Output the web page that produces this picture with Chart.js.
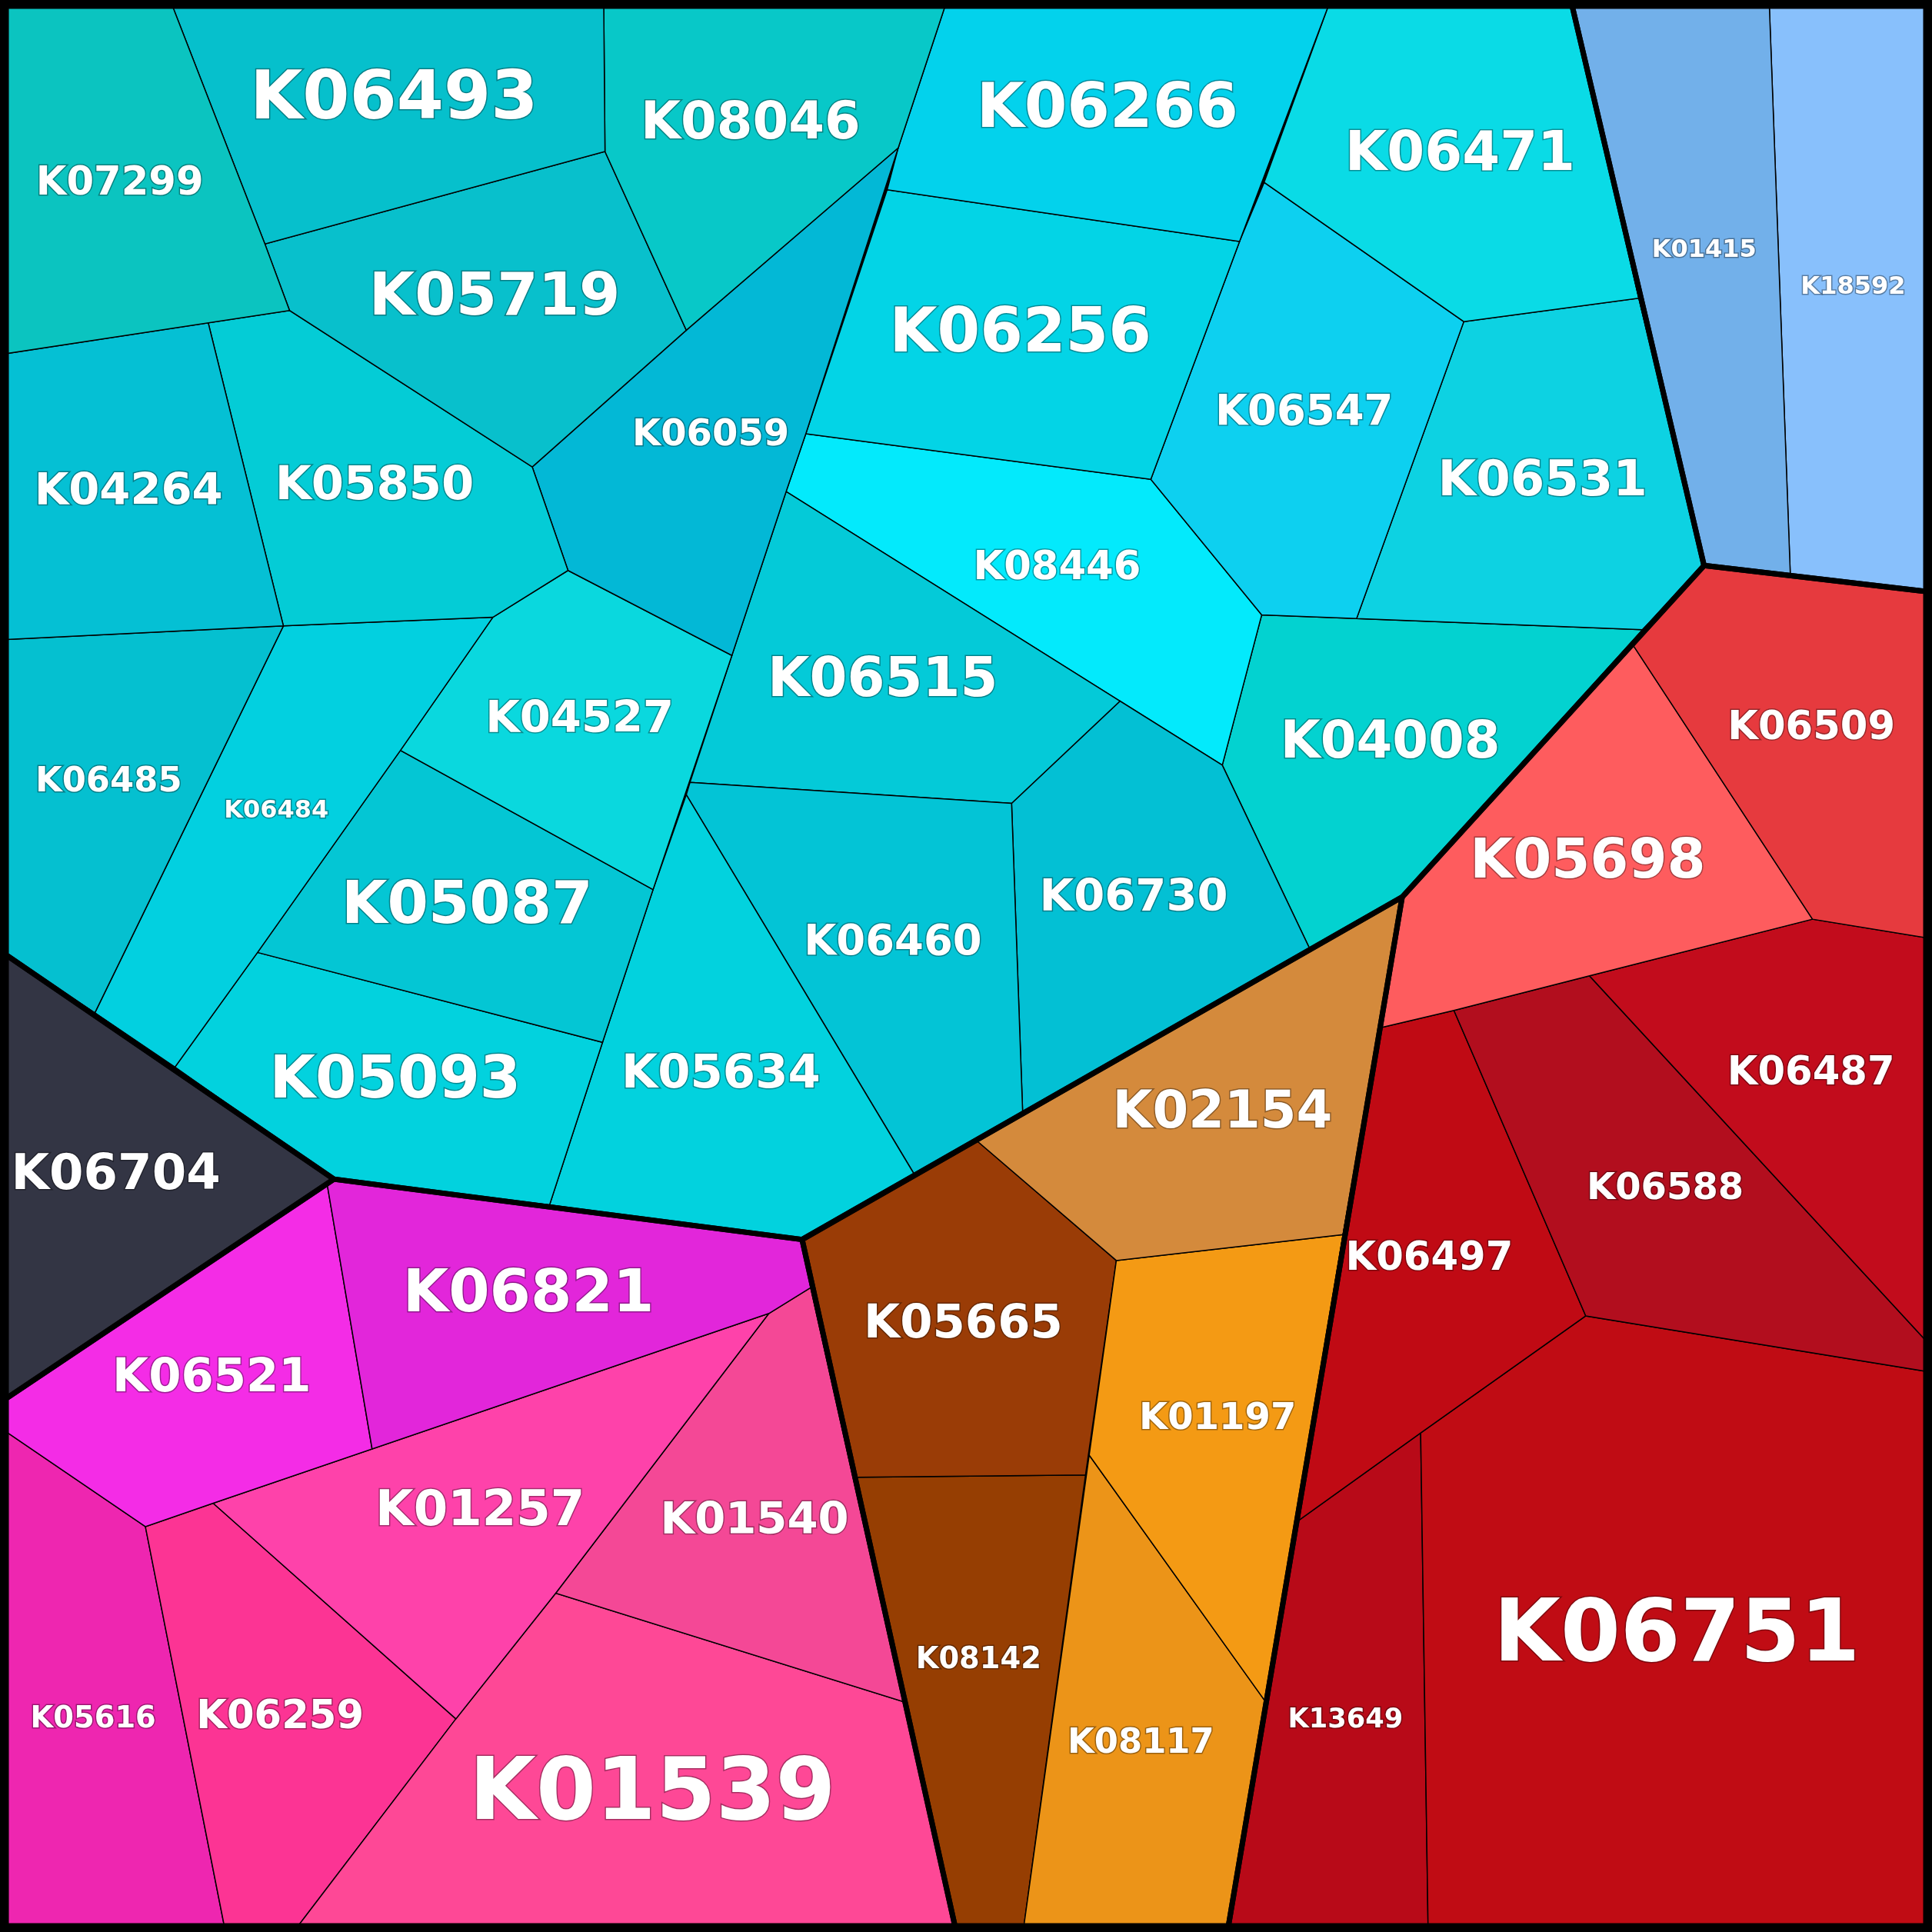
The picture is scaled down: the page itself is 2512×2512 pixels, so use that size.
<!DOCTYPE html>
<html>
<head>
<meta charset="utf-8">
<script src="https://cdn.jsdelivr.net/npm/chart.js@4"></script>
<style>
  html, body { margin: 0; padding: 0; background: #000; }
  canvas { display: block; }
</style>
</head>
<body>
<canvas id="voronoi" width="2512" height="2512"></canvas>
<script>
// cell names
const cells = ['K07299','K06493','K08046','K05719','K04264','K05850','K06059','K06485','K06484','K04527',
  'K05087','K05093','K05634','K06460','K06515','K06730','K06266','K06471','K06256','K06547',
  'K06531','K08446','K04008','K01415','K18592','K06509','K05698','K06487','K06588','K06497',
  'K06751','K13649','K02154','K01197','K08117','K05665','K08142','K06704','K06821','K06521',
  'K01257','K01540','K01539','K06259','K05616'];

// relative weight of each cell (drives label size)
const weights = [32,55,42,48,36,38,30,28,20,36, 48,48,38,34,44,36,50,44,50,34,
  40,32,42,20,20,32,45,32,30,32, 70,22,42,30,28,38,24,40,48,38, 40,36,70,32,24];

// cell outlines, in map units (0..1568, y down)
const polygons = [
  [[5,5],[140,5],[215,198],[235,252],[5,287]],
  [[140,5],[490,5],[491,123],[215,198]],
  [[490,5],[767,5],[729,120],[557,268],[491,123]],
  [[215,198],[491,123],[557,268],[432,379],[235,252]],
  [[5,287],[169,262],[230,508],[5,519]],
  [[169,262],[235,252],[432,379],[461,463],[400,501],[230,508]],
  [[432,379],[557,268],[729,120],[654,352],[638,399],[594,532],[461,463]],
  [[5,519],[230,508],[77,822],[5,775]],
  [[230,508],[400,501],[325,609],[209,773],[142,866],[77,822]],
  [[400,501],[461,463],[594,532],[530,722],[325,609]],
  [[325,609],[530,722],[489,846],[209,773]],
  [[209,773],[489,846],[446,978],[271,957],[142,866]],
  [[557,645],[742,953],[651,1006],[446,978],[489,846],[530,722]],
  [[560,635],[821,652],[830,903],[742,953],[557,645]],
  [[638,399],[909,569],[821,652],[560,635],[594,532]],
  [[821,652],[909,569],[992,621],[1063,770],[830,903]],
  [[767,5],[1078,5],[1006,196],[720,154],[729,120]],
  [[1078,5],[1276,5],[1330,242],[1188,261],[1026,148]],
  [[720,154],[1006,196],[934,389],[654,352]],
  [[1026,148],[1188,261],[1101,502],[1024,499],[934,389],[1006,196]],
  [[1188,261],[1330,242],[1383,459],[1333,511],[1101,502]],
  [[654,352],[934,389],[1024,499],[992,621],[909,569],[638,399]],
  [[1024,499],[1101,502],[1333,511],[1138,728],[1063,770],[992,621]],
  [[1276,5],[1436,5],[1453,466],[1383,459]],
  [[1436,5],[1563,5],[1563,480],[1453,466]],
  [[1383,459],[1563,480],[1563,761],[1471,746],[1325,523]],
  [[1325,523],[1471,746],[1290,792],[1180,820],[1121,834],[1138,728]],
  [[1471,746],[1563,761],[1563,1088],[1290,792]],
  [[1180,820],[1290,792],[1563,1088],[1563,1113],[1287,1068]],
  [[1121,834],[1180,820],[1287,1068],[1153,1163],[1054,1234],[1090,1002]],
  [[1287,1068],[1563,1113],[1563,1563],[1159,1563],[1153,1163]],
  [[1054,1234],[1153,1163],[1159,1563],[997,1563],[1027,1381]],
  [[793,926],[1138,728],[1090,1002],[906,1023]],
  [[906,1023],[1090,1002],[1027,1381],[884,1181]],
  [[884,1181],[1027,1381],[997,1563],[831,1563]],
  [[651,1006],[793,926],[906,1023],[881,1197],[695,1199]],
  [[695,1199],[881,1197],[831,1563],[775,1563]],
  [[5,775],[77,822],[142,866],[271,957],[5,1135]],
  [[271,957],[651,1006],[658,1045],[624,1066],[302,1176],[265,958]],
  [[5,1135],[265,958],[302,1176],[173,1220],[118,1239],[5,1162]],
  [[173,1220],[624,1066],[451,1293],[370,1395]],
  [[624,1066],[658,1045],[733,1381],[451,1293]],
  [[451,1293],[733,1381],[775,1563],[242,1563],[370,1395]],
  [[118,1239],[173,1220],[370,1395],[242,1563],[182,1563]],
  [[5,1162],[118,1239],[182,1563],[5,1563]]
];

// group outlines (drawn thick)
const groups = [
  [[5,5],[1276,5],[1383,459],[1138,728],[651,1006],[271,957],[5,775]],
  [[1276,5],[1563,5],[1563,480],[1383,459]],
  [[1383,459],[1563,480],[1563,1563],[997,1563],[1138,728]],
  [[1138,728],[997,1563],[775,1563],[651,1006]],
  [[651,1006],[775,1563],[5,1563],[5,1135],[271,957]],
  [[5,775],[271,957],[5,1135]]
];

const colors = ['#0bc4c0','#06c0cc','#08c8c8','#08c0cc','#05c0d4','#04ccd6','#03b8d6','#05c0d0','#02d0e0','#0ad8de',
  '#04c6d4','#02d2de','#02d2de','#03c4d6','#04cad8','#03c0d4','#03d2ec','#0adbe6','#03d4e6','#0dd0f0',
  '#0dd2e2','#03eafc','#03d2d0','#72b0ea','#88c0fc','#e63a3e','#fe5c5e','#c20c1c','#b20e1e','#c00a14',
  '#c00c14','#b80a18','#d48a3c','#f49a14','#ec9418','#9a3c06','#963e02','#333544','#e226da','#f42ce6',
  '#fe42aa','#f44896','#fe4896','#fc3494','#ee26b0'];

const toPts = poly => poly.concat([poly[0]]).map(p => ({ x: p[0], y: p[1] }));

function centroid(poly) {
  let a = 0, cx = 0, cy = 0;
  for (let i = 0; i < poly.length; i++) {
    const [x0, y0] = poly[i], [x1, y1] = poly[(i + 1) % poly.length];
    const f = x0 * y1 - x1 * y0;
    a += f; cx += (x0 + x1) * f; cy += (y0 + y1) * f;
  }
  a *= 0.5;
  return [cx / (6 * a), cy / (6 * a)];
}

const datasets = polygons.map((poly, i) => ({
  label: cells[i],
  data: toPts(poly),
  showLine: true,
  fill: 'shape',
  backgroundColor: colors[i],
  borderColor: '#000',
  borderWidth: 1.5,
  pointRadius: 0,
  tension: 0,
  order: 1
})).concat(groups.map(g => ({
  data: toPts(g),
  showLine: true,
  fill: false,
  borderColor: '#000',
  borderWidth: 7,
  borderJoinStyle: 'round',
  pointRadius: 0,
  tension: 0,
  order: 0
})));

const labelPlugin = {
  id: 'cellLabels',
  beforeDraw: (chart) => {
    const { ctx, width, height } = chart;
    ctx.save();
    ctx.fillStyle = '#000';
    ctx.fillRect(0, 0, width, height);
    ctx.restore();
  },
  afterDatasetsDraw: (chart) => {
    const { ctx, scales } = chart;
    ctx.save();
    ctx.textAlign = 'center';
    ctx.textBaseline = 'middle';
    polygons.forEach((poly, i) => {
      const [cx, cy] = centroid(poly);
      const size = weights[i] * 1.6;
      ctx.font = `bold ${size}px "DejaVu Sans"`;
      ctx.lineWidth = 3;
      ctx.strokeStyle = 'rgba(0,0,0,0.35)';
      const px = scales.x.getPixelForValue(cx), py = scales.y.getPixelForValue(cy);
      ctx.strokeText(cells[i], px, py);
      ctx.fillStyle = '#fff';
      ctx.fillText(cells[i], px, py);
    });
    ctx.restore();
  }
};

new Chart(document.getElementById('voronoi').getContext('2d'), {
  type: 'scatter',
  data: { datasets },
  options: {
    responsive: false,
    devicePixelRatio: 1,
    animation: false,
    layout: { padding: 0 },
    plugins: { legend: { display: false }, tooltip: { enabled: false } },
    scales: {
      x: { type: 'linear', min: 0, max: 1568, display: false },
      y: { type: 'linear', min: 0, max: 1568, reverse: true, display: false }
    }
  },
  plugins: [labelPlugin]
});
</script>
</body>
</html>
